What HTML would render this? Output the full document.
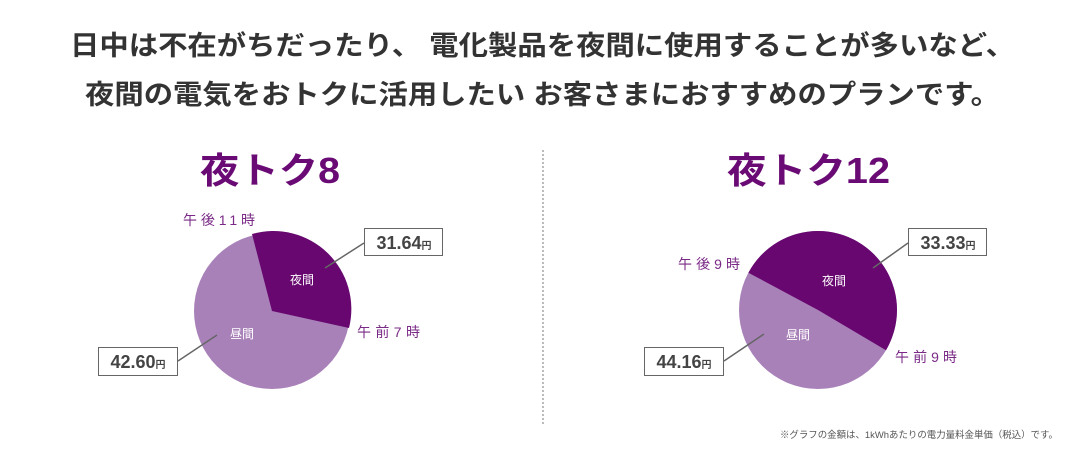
<!DOCTYPE html>
<html><head><meta charset="utf-8"><style>
body{margin:0;width:1085px;height:458px;background:#fff;overflow:hidden;font-family:"Liberation Sans","Noto Sans CJK JP",sans-serif}
svg text{font-family:"Liberation Sans","Noto Sans CJK JP",sans-serif}
</style></head><body>
<svg width="1085" height="458" xmlns="http://www.w3.org/2000/svg">
<text x="70" y="55" font-size="27" font-weight="bold" fill="#333" textLength="945" lengthAdjust="spacingAndGlyphs">日中は不在がちだったり、 電化製品を夜間に使用することが多いなど、</text>
<text x="85" y="104" font-size="27" font-weight="bold" fill="#333" textLength="915" lengthAdjust="spacingAndGlyphs">夜間の電気をおトクに活用したい お客さまにおすすめのプランです。</text>
<line x1="543" y1="150" x2="543" y2="425" stroke="#777" stroke-dasharray="2,2"/>

<text x="200" y="183" font-size="36" font-weight="bold" fill="#6a0a74" textLength="140" lengthAdjust="spacingAndGlyphs">夜トク8</text>
<text x="727" y="183" font-size="36" font-weight="bold" fill="#6a0a74" textLength="163" lengthAdjust="spacingAndGlyphs">夜トク12</text>

<!-- pie 1 -->
<circle cx="272" cy="311" r="78" fill="#a981b9"/>
<path d="M272,311 L252,234 A78,78 0 0 1 349,328 Z" fill="#67076f"/>
<text x="302" y="284" text-anchor="middle" font-size="12" fill="#fff">夜間</text>
<text x="242" y="338" text-anchor="middle" font-size="12" fill="#fff">昼間</text>
<text x="183" y="225" font-size="14" fill="#7a2a86" textLength="72">午後11時</text>
<text x="357" y="337" font-size="14" fill="#7a2a86" textLength="63">午前7時</text>
<line x1="325" y1="268" x2="364" y2="243" stroke="#666" stroke-width="1.5"/>
<line x1="178" y1="361" x2="217" y2="335" stroke="#666" stroke-width="1.5"/>
<rect x="364.5" y="228.5" width="78" height="27" fill="#fff" stroke="#666"/>
<text x="404" y="249" text-anchor="middle" font-size="18" font-weight="bold" fill="#444">31.64<tspan font-size="10">円</tspan></text>
<rect x="98.5" y="347.5" width="79" height="28" fill="#fff" stroke="#666"/>
<text x="138" y="368" text-anchor="middle" font-size="18" font-weight="bold" fill="#444">42.60<tspan font-size="10">円</tspan></text>

<!-- pie 2 -->
<circle cx="818" cy="310" r="79" fill="#a981b9"/>
<path d="M818,310 L748.4,272.7 A79,79 0 0 1 818,231 A79,79 0 0 1 886,350.2 Z" fill="#67076f"/>
<text x="834" y="285" text-anchor="middle" font-size="12" fill="#fff">夜間</text>
<text x="798" y="339" text-anchor="middle" font-size="12" fill="#fff">昼間</text>
<text x="678" y="269" font-size="14" fill="#7a2a86" textLength="62">午後9時</text>
<text x="895" y="362" font-size="14" fill="#7a2a86" textLength="62">午前9時</text>
<line x1="873" y1="268" x2="908" y2="243" stroke="#666" stroke-width="1.5"/>
<line x1="724" y1="361" x2="764" y2="334" stroke="#666" stroke-width="1.5"/>
<rect x="908.5" y="228.5" width="78" height="27" fill="#fff" stroke="#666"/>
<text x="948" y="249" text-anchor="middle" font-size="18" font-weight="bold" fill="#444">33.33<tspan font-size="10">円</tspan></text>
<rect x="644.5" y="347.5" width="79" height="28" fill="#fff" stroke="#666"/>
<text x="684" y="368" text-anchor="middle" font-size="18" font-weight="bold" fill="#444">44.16<tspan font-size="10">円</tspan></text>

<text x="780" y="438" font-size="9.5" fill="#555" textLength="278" lengthAdjust="spacingAndGlyphs">※グラフの金額は、1kWhあたりの電力量料金単価（税込）です。</text>
</svg>
</body></html>
